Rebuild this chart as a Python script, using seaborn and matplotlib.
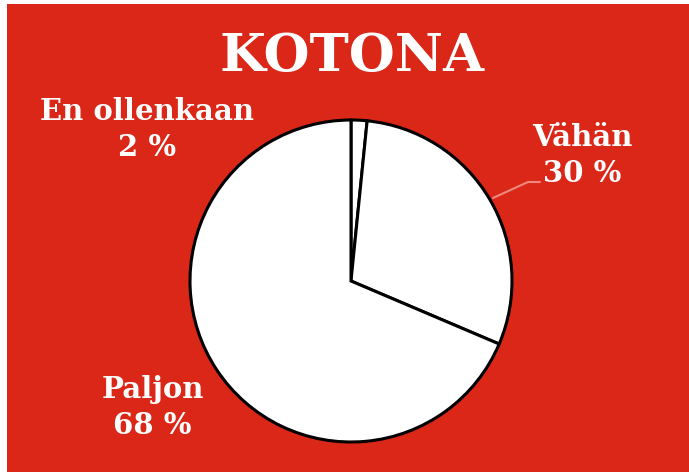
import matplotlib
matplotlib.use("Agg")
import matplotlib.pyplot as plt
import seaborn as sns
from matplotlib.patches import Rectangle

# Data
categories = ["En ollenkaan", "Vähän", "Paljon"]
shares = [1.6, 29.8, 68.6]
share_labels = ["2 %", "30 %", "68 %"]
title = "KOTONA"

RED = "#DA2718"
W, H = 689, 472

sns.set_theme(style="white")
plt.rcParams["font.family"] = ["DejaVu Serif"]

fig = plt.figure(figsize=(W / 100, H / 100), dpi=100)
fig.patch.set_facecolor("white")
fig.patches.append(Rectangle((7 / W, 0), 1, 1 - 4 / H, transform=fig.transFigure,
                             facecolor=RED, edgecolor="none", zorder=-5))

# pie axes: centre (351, 281) px, radius 161 px
cx, cy, r = 351, 281, 161
ax = fig.add_axes([(cx - r) / W, (H - cy - r) / H, 2 * r / W, 2 * r / H])
ax.set_zorder(2)
ax.patch.set_alpha(0)
ax.pie(shares, startangle=90, counterclock=False, colors=["white"] * 3,
       wedgeprops=dict(edgecolor="black", linewidth=2.2))
ax.set_xlim(-1, 1)
ax.set_ylim(-1, 1)
ax.set_aspect("equal")
ax.axis("off")
for p in ax.patches:
    p.set_clip_on(False)


def px(x, y):
    return x / W, 1 - y / H


fig.text(*px(352, 57), title, ha="center", va="center", color="white",
         fontsize=38, fontweight="bold")

# label centres in pixels (name line, value line)
label_pos = [((147, 112), (147, 148)), ((582, 138), (582, 173)), ((153, 390), (152, 425))]
for name, val, (p1, p2) in zip(categories, share_labels, label_pos):
    fig.text(*px(*p1), name, ha="center", va="center", color="white",
             fontsize=21, fontweight="bold")
    fig.text(*px(*p2), val, ha="center", va="center", color="white",
             fontsize=21, fontweight="bold")

# leader line for "Vähän"
xs = [493, 528, 540]
ys = [198, 182, 182]
fig.add_artist(plt.Line2D([x / W for x in xs], [1 - y / H for y in ys],
                          color="#F0877C", linewidth=1.5, transform=fig.transFigure))

fig.savefig("out.png", dpi=100, facecolor=fig.get_facecolor())
